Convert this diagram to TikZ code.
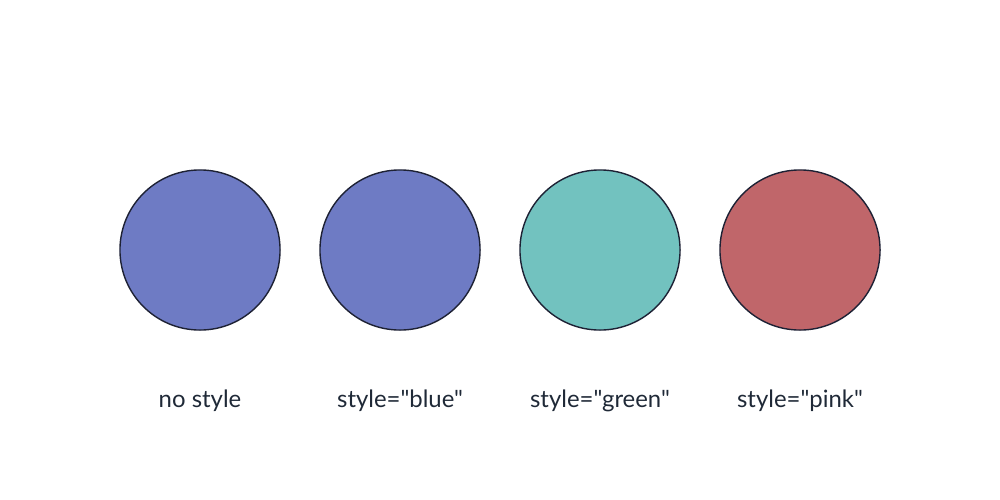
\documentclass[tikz,border=0pt]{standalone}
\usepackage{fontspec}
\newfontfamily\labfont{Lato}
\definecolor{cblue}{HTML}{6E7BC4}
\definecolor{cgreen}{HTML}{72C2BF}
\definecolor{cpink}{HTML}{C0666A}
\definecolor{cstroke}{HTML}{1E2235}
\definecolor{ctext}{HTML}{1F2937}
\begin{document}
\begin{tikzpicture}[x=0.01cm,y=-0.01cm,
  dot/.style={circle,draw=cstroke,line width=0.4pt,minimum size=1.6cm,inner sep=0pt},
  lab/.style={text=ctext,font=\labfont\fontsize{6.8pt}{7pt}\selectfont,inner sep=0pt}]
\useasboundingbox (0,0) rectangle (1000,500);
\node[dot,fill=cblue] (c1) at (200,250) {};
\node[dot,fill=cblue] (c2) at (400,250) {};
\node[dot,fill=cgreen] (c3) at (600,250) {};
\node[dot,fill=cpink] (c4) at (800,250) {};
\node[lab,anchor=base] (l1) at (200,407) {no style};
\node[lab,anchor=base] (l2) at (400,407) {style="blue"};
\node[lab,anchor=base] (l3) at (600,407) {style="green"};
\node[lab,anchor=base] (l4) at (800,407) {style="pink"};
\end{tikzpicture}
\end{document}
